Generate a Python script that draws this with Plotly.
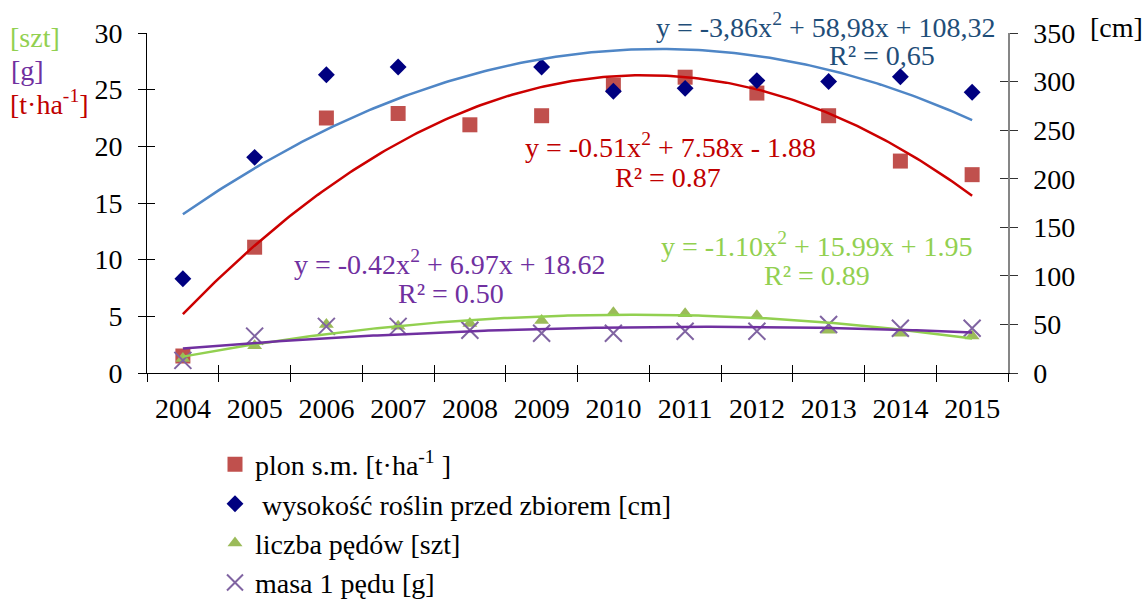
import numpy as np
import plotly.graph_objects as go

# ---------------- data ----------------
years = ["2004", "2005", "2006", "2007", "2008", "2009", "2010", "2011", "2012", "2013", "2014", "2015"]
plon = [1.5, 11.1, 22.5, 22.9, 21.9, 22.7, 25.4, 26.1, 24.7, 22.7, 18.7, 17.5]          # [t/ha], left axis
wysokosc = [97, 222, 307, 315, None, 315, 290, 293, 301, 300, 305, 289]                 # [cm], right axis
liczba = [15, 28, 50, 48, 51, 54, 62, 61, 59, 44, 41, 38]                               # [szt], right axis
masa = [13, 38, 48, 48, 44, 41, 41, 43, 43, 50, 46, 46]                                 # [g], right axis

# trendline coefficients (a, b, c) for y = a x^2 + b x + c, x = 1..12
coef_plon = (-0.51, 7.58, -1.88)
coef_wys = (-3.86, 58.98, 108.32)
coef_licz = (-1.10, 15.99, 1.95)
coef_masa = (-0.42, 6.97, 18.62)

eq_wys = ["y = -3,86x<sup>2</sup> + 58,98x + 108,32", "R² = 0,65"]
eq_plon = ["y = -0.51x<sup>2</sup> + 7.58x - 1.88", "R² = 0.87"]
eq_masa = ["y = -0.42x<sup>2</sup> + 6.97x + 18.62", "R² = 0.50"]
eq_licz = ["y = -1.10x<sup>2</sup> + 15.99x + 1.95", "R² = 0.89"]

# ---------------- style ----------------
FONT = "Liberation Serif"
FS = 28
W, H = 1148, 620          # page window is 1148x599; extra height only holds the legend tail (clipped)
L, R, T, B = 147, 1008, 33, 375  # plot area in pixels

C_SQ, C_DIA, C_TRI, C_X = "#C0504D", "#000080", "#9BBB59", "#8064A2"
C_TR_BLUE, C_TR_RED, C_TR_GREEN, C_TR_PURPLE = "#4F86C6", "#CC0000", "#92D050", "#7030A0"
C_EQ_BLUE = "#1F4E79"


def px(x):
    return (x - L) / (R - L)


def py(y):
    return (B - y) / (B - T)


xi = list(range(1, len(years) + 1))
xs = np.linspace(1, len(years), 200)


def quad(c):
    a, b, d = c
    return a * xs ** 2 + b * xs + d


fig = go.Figure()

# points
fig.add_trace(go.Scatter(x=xi, y=plon, mode="markers", name="plon s.m. [t·ha<sup>-1</sup> ]",
                         marker=dict(symbol="square", size=15, color=C_SQ), yaxis="y"))
fig.add_trace(go.Scatter(x=xi, y=wysokosc, mode="markers", name="\u00a0wysokość roślin przed zbiorem [cm]",
                         marker=dict(symbol="diamond", size=13, color=C_DIA), yaxis="y2"))
fig.add_trace(go.Scatter(x=xi, y=liczba, mode="markers", name="liczba pędów [szt]",
                         marker=dict(symbol="triangle-up", size=13, color=C_TRI), yaxis="y2"))
fig.add_trace(go.Scatter(x=xi, y=masa, mode="markers", name="masa 1 pędu [g]",
                         marker=dict(symbol="x-thin-open", size=17, color=C_X, line=dict(width=2, color=C_X)),
                         yaxis="y2"))

# trendlines
fig.add_trace(go.Scatter(x=xs, y=quad(coef_plon), mode="lines", line=dict(color=C_TR_RED, width=2.5),
                         showlegend=False, hoverinfo="skip", yaxis="y"))
fig.add_trace(go.Scatter(x=xs, y=quad(coef_wys), mode="lines", line=dict(color=C_TR_BLUE, width=2.5),
                         showlegend=False, hoverinfo="skip", yaxis="y2"))
fig.add_trace(go.Scatter(x=xs, y=quad(coef_licz), mode="lines", line=dict(color=C_TR_GREEN, width=2.5),
                         showlegend=False, hoverinfo="skip", yaxis="y2"))
fig.add_trace(go.Scatter(x=xs, y=quad(coef_masa), mode="lines", line=dict(color=C_TR_PURPLE, width=2.5),
                         showlegend=False, hoverinfo="skip", yaxis="y2"))

# invisible helper traces to activate overlay axes used for crossing tick marks
for xa, ya in [("x2", "y"), ("x3", "y"), ("x", "y3"), ("x", "y4")]:
    fig.add_trace(go.Scatter(x=[xi[0]], y=[0], xaxis=xa, yaxis=ya, mode="markers",
                             marker=dict(opacity=0, size=1), showlegend=False, hoverinfo="skip"))

bounds = [i + 0.5 for i in range(0, len(years) + 1)]
xr = [0.5, len(years) + 0.5]
tickfont = dict(family=FONT, size=FS, color="black")

fig.update_layout(
    width=W, height=H,
    margin=dict(l=L, r=W - R, t=T, b=H - B),
    paper_bgcolor="white", plot_bgcolor="white",
    font=dict(family=FONT, size=FS, color="black"),
    showlegend=True,
    legend=dict(x=px(215), y=py(442), xanchor="left", yanchor="top",
                font=dict(family=FONT, size=FS, color="black"),
                bgcolor="rgba(0,0,0,0)", tracegroupgap=0, itemwidth=30),
    xaxis=dict(range=xr, tickvals=xi, ticktext=years, ticks="", showline=True, linecolor="black",
               linewidth=1, showgrid=False, zeroline=False, tickfont=tickfont, anchor="y",
               ticklabelstandoff=10),
    xaxis2=dict(range=xr, overlaying="x", anchor="y", tickvals=bounds, ticks="outside", ticklen=8,
                tickcolor="black", showticklabels=False, showline=False, showgrid=False, zeroline=False),
    xaxis3=dict(range=xr, overlaying="x", anchor="y", tickvals=bounds, ticks="inside", ticklen=8,
                tickcolor="black", showticklabels=False, showline=False, showgrid=False, zeroline=False),
    yaxis=dict(range=[0, 30], tickvals=[0, 5, 10, 15, 20, 25, 30], ticks="outside", ticklen=8,
               tickcolor="black", showline=True, linecolor="black", linewidth=1, showgrid=False,
               zeroline=False, tickfont=tickfont, anchor="x", ticklabelstandoff=10),
    yaxis3=dict(range=[0, 30], overlaying="y", anchor="x", tickvals=[0, 5, 10, 15, 20, 25, 30],
                ticks="inside", ticklen=8, tickcolor="black", showticklabels=False, showline=False,
                showgrid=False, zeroline=False),
    yaxis2=dict(range=[0, 350], overlaying="y", side="right", anchor="x",
                tickvals=[0, 50, 100, 150, 200, 250, 300, 350], ticks="outside", ticklen=8,
                tickcolor="#333333", showline=True, linecolor="#868686", linewidth=1.5, showgrid=False,
                zeroline=False, tickfont=tickfont, ticklabelstandoff=10),
    yaxis4=dict(range=[0, 350], overlaying="y", side="right", anchor="x",
                tickvals=[0, 50, 100, 150, 200, 250, 300, 350], ticks="inside", ticklen=8,
                tickcolor="#333333", showticklabels=False, showline=False, showgrid=False, zeroline=False),
)

ann = []


def add_text(text, xpix, ypix, color, xanchor="center"):
    ann.append(dict(text=text, x=px(xpix), y=py(ypix), xref="paper", yref="paper",
                    xanchor=xanchor, yanchor="middle", showarrow=False,
                    font=dict(family=FONT, size=FS, color=color)))


# equations
add_text(eq_wys[0], 826, 25, C_EQ_BLUE)
add_text(eq_wys[1], 882, 56, C_EQ_BLUE)
add_text(eq_plon[0], 670, 146, "#C00000")
add_text(eq_plon[1], 668, 178, "#C00000")
add_text(eq_masa[0], 450, 264, "#7030A0")
add_text(eq_masa[1], 451, 295, "#7030A0")
add_text(eq_licz[0], 817, 246, "#92D050")
add_text(eq_licz[1], 817, 277, "#92D050")

# axis unit labels
add_text("[szt]", 8, 38, "#92D050", xanchor="left")
add_text("[g]", 9, 71, "#7030A0", xanchor="left")
add_text("[t·ha<sup>-1</sup>]", 8, 103, "#C00000", xanchor="left")
add_text("[cm]", 1145, 27, "black", xanchor="right")

fig.update_layout(annotations=ann)

fig.write_html("out.html", config={"displayModeBar": False},
               post_script="document.body.style.margin='0px';document.body.style.overflow='hidden';"
                           "document.documentElement.style.overflow='hidden';")
